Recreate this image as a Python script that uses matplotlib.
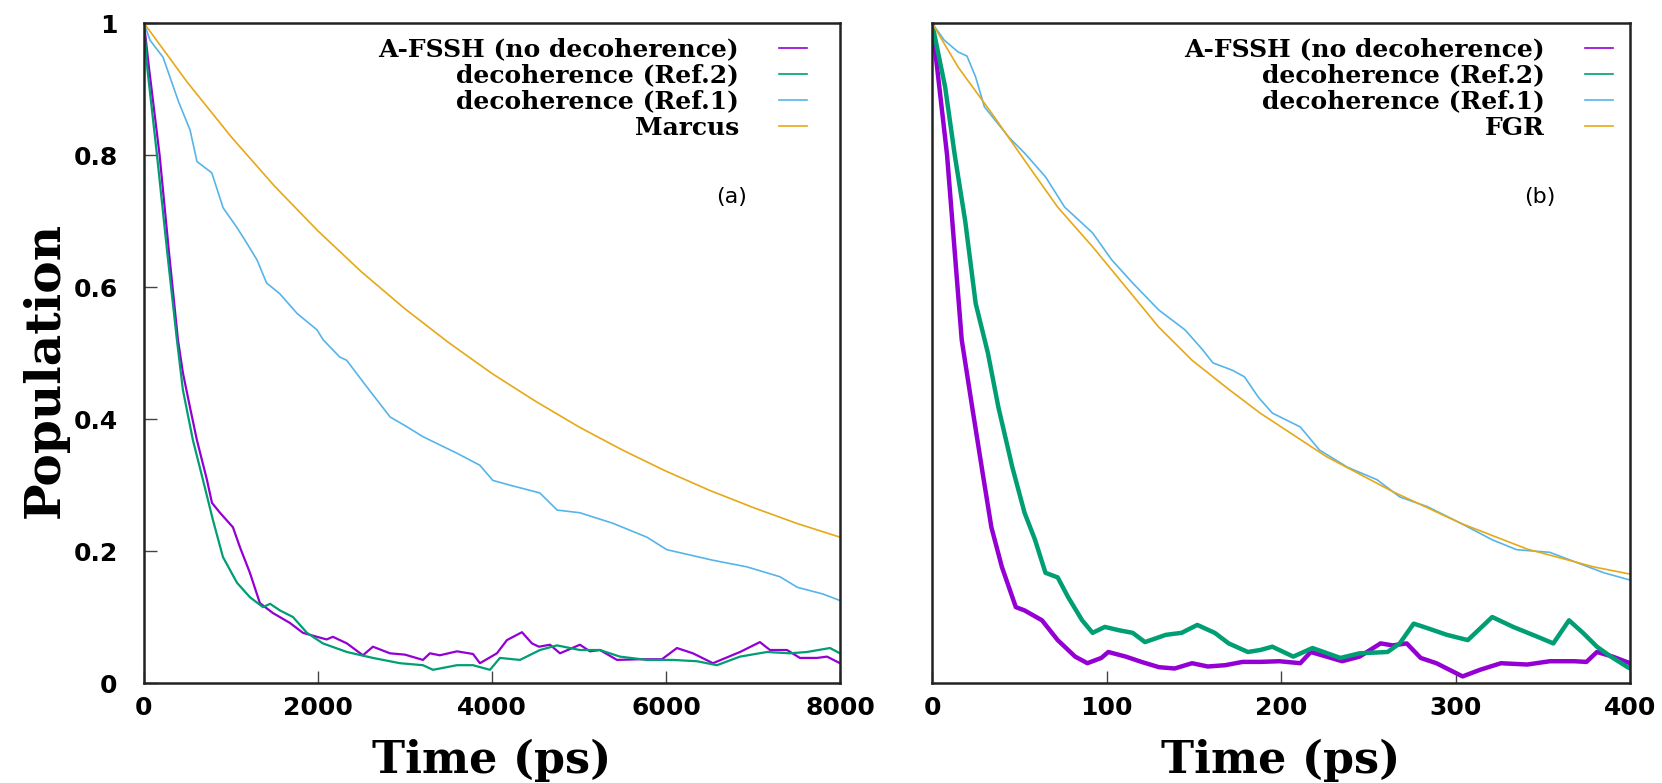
import matplotlib
matplotlib.use("Agg")
import matplotlib.pyplot as plt

# ---- panel (a): 0-8000 ps ----
marcus_t = [0, 500, 1000, 1500, 2000, 2500, 3000, 3500, 4000, 4500, 5000, 5500, 6000, 6500, 7000, 7500, 8000]
marcus_p = [1.0, 0.91, 0.828, 0.753, 0.685, 0.623, 0.567, 0.516, 0.469, 0.427, 0.388, 0.353, 0.321, 0.292, 0.266, 0.242, 0.221]

ref1a_t = [0, 70, 220, 400, 530, 610, 780, 910, 1070, 1180, 1300, 1410, 1560, 1760, 1990, 2060, 2250, 2330,
           2560, 2830, 3000, 3210, 3600, 3860, 4010, 4200, 4550, 4750, 5010, 5390, 5780, 6010, 6540, 6930,
           7310, 7510, 7800, 8000]
ref1a_p = [1.0, 0.974, 0.948, 0.88, 0.838, 0.79, 0.773, 0.72, 0.69, 0.667, 0.641, 0.606, 0.59, 0.56, 0.535, 0.52,
           0.494, 0.489, 0.449, 0.403, 0.39, 0.373, 0.348, 0.33, 0.307, 0.3, 0.288, 0.262, 0.258, 0.242, 0.221,
           0.202, 0.186, 0.176, 0.161, 0.145, 0.135, 0.125]

afssh_a_t = [0, 60, 180, 290, 391, 448, 529, 609, 724, 782, 874, 1023, 1103, 1218, 1333, 1483, 1678, 1828, 1989,
             2100, 2172, 2333, 2517, 2632, 2828, 3000, 3207, 3287, 3400, 3598, 3782, 3862, 4057, 4172, 4345, 4460,
             4540, 4667, 4782, 5011, 5126, 5241, 5437, 5701, 5954, 6126, 6310, 6540, 6851, 7080, 7195, 7391, 7540,
             7736, 7851, 8000]
afssh_a_p = [1.0, 0.93, 0.8, 0.65, 0.52, 0.47, 0.418, 0.368, 0.308, 0.273, 0.258, 0.236, 0.206, 0.167, 0.121, 0.106,
             0.091, 0.076, 0.07, 0.066, 0.07, 0.06, 0.042, 0.055, 0.045, 0.043, 0.035, 0.045, 0.042, 0.048, 0.044,
             0.03, 0.045, 0.065, 0.077, 0.06, 0.055, 0.058, 0.045, 0.058, 0.048, 0.05, 0.035, 0.036, 0.036, 0.053,
             0.045, 0.03, 0.047, 0.062, 0.05, 0.05, 0.038, 0.038, 0.04, 0.03]

ref2a_t = [0, 40, 150, 270, 379, 448, 563, 678, 793, 908, 1069, 1218, 1368, 1450, 1563, 1713, 1874, 2057, 2333,
           2632, 2943, 3207, 3322, 3598, 3782, 3977, 4092, 4322, 4552, 4747, 5011, 5241, 5471, 5782, 6080, 6356,
           6586, 6851, 7161, 7425, 7621, 7885, 8000]
ref2a_p = [1.0, 0.93, 0.8, 0.65, 0.52, 0.444, 0.368, 0.308, 0.247, 0.191, 0.152, 0.13, 0.115, 0.12, 0.11, 0.10,
           0.076, 0.06, 0.047, 0.038, 0.03, 0.027, 0.02, 0.027, 0.027, 0.02, 0.038, 0.035, 0.05, 0.057, 0.05, 0.05,
           0.04, 0.035, 0.035, 0.033, 0.027, 0.04, 0.047, 0.045, 0.047, 0.053, 0.045]

# ---- panel (b): 0-400 ps ----
fgr_t = [0, 15, 34, 53, 72, 92, 111, 130, 149, 170, 188, 226, 264, 303, 341, 379, 400]
fgr_p = [1.0, 0.933, 0.864, 0.792, 0.721, 0.661, 0.60, 0.539, 0.489, 0.445, 0.409, 0.343, 0.29, 0.242, 0.203, 0.176, 0.165]

ref1b_t = [0, 7, 15, 20, 25, 30, 44, 53, 65, 76, 92, 103, 115, 130, 145, 155, 161, 172, 179, 187, 195, 211, 222,
           238, 255, 268, 284, 303, 321, 335, 354, 370, 385, 400]
ref1b_p = [1.0, 0.974, 0.956, 0.95, 0.918, 0.873, 0.827, 0.803, 0.767, 0.721, 0.682, 0.641, 0.606, 0.565, 0.535,
           0.505, 0.485, 0.474, 0.464, 0.433, 0.409, 0.388, 0.353, 0.327, 0.308, 0.282, 0.267, 0.242, 0.217, 0.202,
           0.198, 0.182, 0.167, 0.156]

afssh_b_t = [0, 8.6, 17, 23, 29, 34, 40, 48, 53, 63, 72, 82, 89, 97, 101, 111, 120, 130, 139, 149, 158, 168, 178,
             188, 199, 211, 217, 226, 235, 245, 257, 264, 272, 280, 289, 304, 314, 326, 341, 354, 368, 375, 381,
             390, 400]
afssh_b_p = [1.0, 0.80, 0.52, 0.418, 0.318, 0.236, 0.176, 0.115, 0.11, 0.095, 0.065, 0.04, 0.03, 0.038, 0.047, 0.04,
             0.032, 0.024, 0.022, 0.03, 0.025, 0.027, 0.032, 0.032, 0.033, 0.03, 0.047, 0.04, 0.033, 0.04, 0.06,
             0.057, 0.06, 0.038, 0.03, 0.01, 0.02, 0.03, 0.028, 0.033, 0.033, 0.032, 0.047, 0.04, 0.03]

ref2b_t = [0, 7.5, 13, 19, 25, 32, 38, 46, 53, 59, 65, 72, 78, 86, 92, 99, 107, 115, 122, 134, 143, 152, 162, 170,
           181, 188, 195, 207, 218, 234, 245, 261, 268, 276, 284, 295, 307, 321, 333, 347, 356, 365, 373, 381, 389,
           398, 400]
ref2b_p = [1.0, 0.903, 0.80, 0.70, 0.575, 0.50, 0.418, 0.327, 0.258, 0.217, 0.167, 0.16, 0.13, 0.095, 0.076, 0.085,
           0.08, 0.076, 0.062, 0.073, 0.076, 0.088, 0.076, 0.06, 0.047, 0.05, 0.055, 0.04, 0.053, 0.038, 0.045,
           0.047, 0.06, 0.09, 0.083, 0.073, 0.065, 0.10, 0.085, 0.07, 0.06, 0.095, 0.076, 0.055, 0.04, 0.025, 0.022]

labels = ["A-FSSH (no decoherence)", "decoherence (Ref.2)", "decoherence (Ref.1)"]
purple, green, blue, gold = "#9400d3", "#009e73", "#56b4e9", "#e6a817"

serif = "DejaVu Serif"
tickfont = {"family": "DejaVu Sans", "weight": "bold", "size": 18}

fig = plt.figure(figsize=(16.62, 7.83), dpi=100)
ax1 = fig.add_axes([0.0866, 0.1277, 0.4188, 0.8429])
ax2 = fig.add_axes([0.5608, 0.1277, 0.42, 0.8429])

ax1.plot(afssh_a_t, afssh_a_p, color=purple, lw=1.6, label=labels[0])
ax1.plot(ref2a_t, ref2a_p, color=green, lw=1.6, label=labels[1])
ax1.plot(ref1a_t, ref1a_p, color=blue, lw=1.2, label=labels[2])
ax1.plot(marcus_t, marcus_p, color=gold, lw=1.2, label="Marcus")

ax2.plot(afssh_b_t, afssh_b_p, color=purple, lw=3.2, label=labels[0])
ax2.plot(ref2b_t, ref2b_p, color=green, lw=3.2, label=labels[1])
ax2.plot(ref1b_t, ref1b_p, color=blue, lw=1.2, label=labels[2])
ax2.plot(fgr_t, fgr_p, color=gold, lw=1.2, label="FGR")

for ax, xmax, xt, tag, tagx, legx in [(ax1, 8000, [0, 2000, 4000, 6000, 8000], "(a)", 6750, 0.952),
                                      (ax2, 400, [0, 100, 200, 300, 400], "(b)", 348, 0.975)]:
    ax.set_xlim(0, xmax)
    ax.set_ylim(0, 1)
    ax.set_xticks(xt)
    ax.set_xticklabels([str(v) for v in xt], fontdict=tickfont)
    for s in ax.spines.values():
        s.set_linewidth(1.8)
        s.set_color("#222222")
    ax.tick_params(axis="x", direction="in", length=9, width=1.0, color="#444444", pad=9)
    ax.set_xlabel("Time (ps)", family=serif, weight="bold", size=32)
    ax.xaxis.set_label_coords(0.5, -0.085)
    ax.text(tagx, 0.736, tag, fontsize=16, ha="center", va="center")
    leg = ax.legend(loc="upper right", bbox_to_anchor=(legx, 0.978), frameon=False, markerfirst=False,
                    handlelength=1.1, handletextpad=1.6, labelspacing=0.08, borderpad=0, borderaxespad=0,
                    prop={"family": serif, "weight": "bold", "size": 18})
    for h in leg.get_lines():
        h.set_linewidth(1.2)

ax1.set_yticks([0, 0.2, 0.4, 0.6, 0.8, 1])
ax1.set_yticklabels(["0", "0.2", "0.4", "0.6", "0.8", "1"], fontdict=tickfont)
ax1.tick_params(axis="y", direction="in", length=9, width=1.0, color="#444444", pad=19)
ax1.set_ylabel("Population", family=serif, weight="bold", size=35, va="center")
ax1.yaxis.set_label_coords(-0.142, 0.475)

ax2.set_yticks([])

fig.savefig("out.png", dpi=100)
